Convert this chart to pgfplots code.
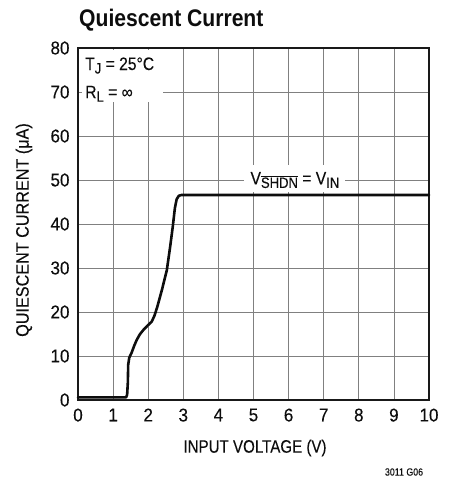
\documentclass[border=0pt]{standalone}
\usepackage{pgfplots}
\pgfplotsset{compat=1.18}
\usepackage{fontspec}
\setmainfont{Liberation Sans}[FakeStretch=0.87, FakeBold=0.15]
\newfontfamily\tickfont{Liberation Sans}[FakeStretch=0.92, FakeBold=0.15]
\newfontfamily\xlabfont{Liberation Sans}[FakeStretch=0.84, FakeBold=0.15]
\newfontfamily\ylabfont{Liberation Sans}[FakeStretch=0.90, FakeBold=0.15]
\newfontfamily\titlefont{Liberation Sans}[FakeStretch=0.88]
\newcommand\sub[1]{\raisebox{-3.5pt}{\fontsize{15}{15}\selectfont #1}}
\begin{document}
\begin{tikzpicture}
\useasboundingbox (-78pt,-79pt) rectangle (377pt,400pt);
\begin{axis}[
  scale only axis, width=351pt, height=352pt,
  xmin=0, xmax=10, ymin=0, ymax=80,
  xtick={0,1,...,10}, ytick={0,10,...,80},
  grid=major, major grid style={black!50, line width=0.8pt},
  major tick length=0pt,
  axis line style={black!90, line width=1.3pt},
  tick label style={font=\tickfont\fontsize{18.5}{20}\selectfont, text=black!95},
  /pgf/number format/assume math mode=true,
  xticklabel style={yshift=-5pt},
  yticklabel style={xshift=-5pt},
  clip=false,
]
\fill[white] (axis cs:0.12,67.7) rectangle (axis cs:2.43,79.6);
\fill[white] (axis cs:4.73,47.2) rectangle (axis cs:7.6,53.4);
\addplot[black!95, line width=2.6pt, line join=round, line cap=round] coordinates {
(0,0.6) (1.37,0.6) (1.40,1.2) (1.42,4) (1.43,8) (1.46,9.6) (1.53,10.8)
(1.6,12.3) (1.67,13.6) (1.76,14.9) (1.86,15.9) (1.98,16.9) (2.1,17.8)
(2.18,19.2) (2.26,21.2) (2.4,25.3) (2.53,29.5) (2.62,34.5) (2.7,39.4)
(2.76,43.6) (2.81,45.6) (2.87,46.4) (2.95,46.6) (10,46.6)
};
\node[anchor=base west, inner sep=0pt, text=black!95, font=\fontsize{18}{20}\selectfont] at (axis cs:0.2,75) {T\sub{J} = 25°C};
\node[anchor=base west, inner sep=0pt, text=black!95, font=\fontsize{18}{20}\selectfont] at (axis cs:0.2,68.6) {R\sub{L} = ∞};
\node[anchor=base, inner sep=0pt, text=black!95, font=\fontsize{18}{20}\selectfont] at (axis cs:6.18,49.0) {V\sub{$\overline{\hbox{SHDN}}$} = V\sub{IN}};
\end{axis}
\node[anchor=base west, inner sep=0pt, text=black!95, font=\titlefont\bfseries\fontsize{24}{28}\selectfont] at (1pt,373pt) {Quiescent Current};
\node[anchor=center, inner sep=0pt, text=black!95, font=\xlabfont\fontsize{18}{20}\selectfont] at (177pt,-48pt) {INPUT VOLTAGE (V)};
\node[anchor=center, inner sep=0pt, rotate=90, text=black!95, font=\ylabfont\fontsize{18}{20}\selectfont] at (-54pt,170pt) {QUIESCENT CURRENT (μA)};
\node[anchor=center, inner sep=0pt, text=black!95, font=\xlabfont\fontsize{10.5}{12}\selectfont] at (326pt,-72pt) {3011 G06};
\end{tikzpicture}
\end{document}
